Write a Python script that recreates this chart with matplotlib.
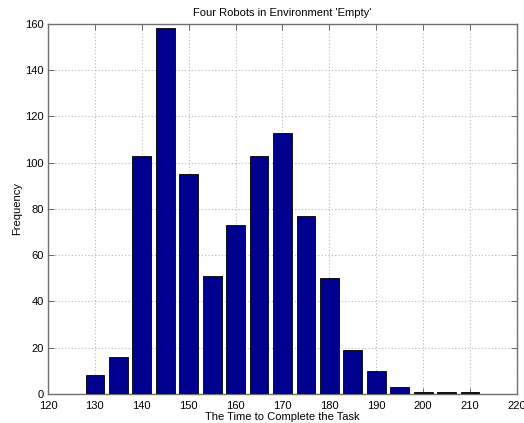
import numpy as np
import matplotlib.pyplot as plt

# bin centers and counts of completion times
bin_centers = [130, 135, 140, 145, 150, 155, 160, 165, 170, 175,
               180, 185, 190, 195, 200, 205, 210]
counts = [8, 16, 103, 158, 95, 51, 73, 103, 113, 77,
          50, 19, 10, 3, 1, 1, 1]
x_ticks = [120, 130, 140, 150, 160, 170, 180, 190, 200, 210, 220]
y_ticks = [0, 20, 40, 60, 80, 100, 120, 140, 160]


def main():
    plt.rcParams['font.family'] = ['Liberation Sans', 'DejaVu Sans']
    fig = plt.figure(figsize=(5.24, 4.23), dpi=100)
    ax = fig.add_axes([0.0916, 0.0686, 0.895, 0.875])

    ax.bar(bin_centers, counts, width=4.0, color='#00008F',
           edgecolor='black', linewidth=0.6, zorder=3)

    ax.set_xlim(120, 220)
    ax.set_ylim(0, 160)
    ax.set_xticks(x_ticks)
    ax.set_yticks(y_ticks)
    ax.tick_params(direction='in', top=True, right=True, labelsize=8,
                   length=4, width=0.6, color='#555555')
    ax.tick_params(axis='x', pad=5)
    ax.tick_params(axis='y', pad=3)
    for s in ax.spines.values():
        s.set_color('#707070')
        s.set_linewidth(1.0)
    ax.grid(True, linestyle=(0, (1, 2)), color='#b8b8b8', linewidth=0.8,
            zorder=0)

    ax.set_title("Four Robots in Environment 'Empty'", fontsize=8, pad=6)
    ax.set_xlabel('The Time to Complete the Task', fontsize=8, labelpad=1)
    ax.set_ylabel('Frequency', fontsize=8, labelpad=2)

    fig.savefig('out.png', dpi=100)


if __name__ == '__main__':
    main()
